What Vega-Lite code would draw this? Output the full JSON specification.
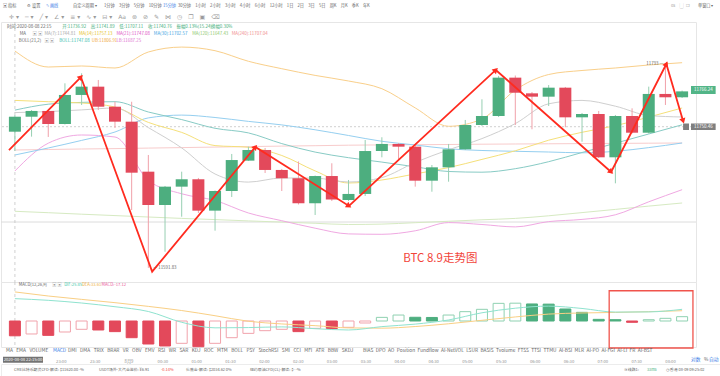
{
"$schema":"https://vega.github.io/schema/vega-lite/v6.json",
"padding":0,"spacing":0,"bounds":"flush","background":"#ffffff",
"config":{"view":{"stroke":null},"text":{"font":"Noto Sans CJK SC"},"axis":{"labelFont":"Noto Sans CJK SC"}},
"datasets":{
"k":[
{"t":"2020-08-08T22:15","o":11726.4,"h":11742.9,"l":11707.3,"c":11741.2},
{"t":"2020-08-08T22:30","o":11741.2,"h":11747.8,"l":11721.5,"c":11746.9},
{"t":"2020-08-08T22:45","o":11746.9,"h":11747.8,"l":11721.2,"c":11734.0},
{"t":"2020-08-08T23:00","o":11734.0,"h":11774.2,"l":11733.5,"c":11762.7},
{"t":"2020-08-08T23:15","o":11762.7,"h":11784.1,"l":11752.8,"c":11770.9},
{"t":"2020-08-08T23:30","o":11770.9,"h":11777.5,"l":11747.8,"c":11751.1},
{"t":"2020-08-08T23:45","o":11751.1,"h":11756.0,"l":11730.1,"c":11736.3},
{"t":"2020-08-09T00:00","o":11736.3,"h":11756.0,"l":11649.0,"c":11685.9},
{"t":"2020-08-09T00:15","o":11686.9,"h":11703.4,"l":11591.83,"c":11654.0},
{"t":"2020-08-09T00:30","o":11654.0,"h":11672.8,"l":11607.8,"c":11672.1},
{"t":"2020-08-09T00:45","o":11672.1,"h":11686.9,"l":11642.4,"c":11679.4},
{"t":"2020-08-09T01:00","o":11679.4,"h":11680.7,"l":11646.1,"c":11648.4},
{"t":"2020-08-09T01:15","o":11648.4,"h":11668.3,"l":11628.6,"c":11667.8},
{"t":"2020-08-09T01:30","o":11667.8,"h":11704.4,"l":11661.9,"c":11698.4},
{"t":"2020-08-09T01:45","o":11697.8,"h":11711.6,"l":11697.5,"c":11708.3},
{"t":"2020-08-09T02:00","o":11708.3,"h":11710.3,"l":11685.6,"c":11688.6},
{"t":"2020-08-09T02:15","o":11688.6,"h":11689.6,"l":11667.8,"c":11680.4},
{"t":"2020-08-09T02:30","o":11680.4,"h":11697.0,"l":11654.5,"c":11655.7},
{"t":"2020-08-09T02:45","o":11655.7,"h":11683.1,"l":11644.1,"c":11682.6},
{"t":"2020-08-09T03:00","o":11682.6,"h":11695.2,"l":11657.9,"c":11659.4},
{"t":"2020-08-09T03:15","o":11658.9,"h":11678.7,"l":11657.9,"c":11664.9},
{"t":"2020-08-09T03:30","o":11664.9,"h":11718.2,"l":11662.9,"c":11707.3},
{"t":"2020-08-09T03:45","o":11707.3,"h":11720.9,"l":11701.1,"c":11714.3},
{"t":"2020-08-09T04:00","o":11714.3,"h":11715.2,"l":11698.4,"c":11711.6},
{"t":"2020-08-09T04:15","o":11711.6,"h":11713.3,"l":11672.1,"c":11678.0},
{"t":"2020-08-09T04:30","o":11678.0,"h":11693.5,"l":11667.1,"c":11691.2},
{"t":"2020-08-09T04:45","o":11691.2,"h":11714.3,"l":11677.0,"c":11709.0},
{"t":"2020-08-09T05:00","o":11709.0,"h":11738.0,"l":11708.3,"c":11733.0},
{"t":"2020-08-09T05:15","o":11733.0,"h":11758.4,"l":11732.0,"c":11741.9},
{"t":"2020-08-09T05:30","o":11741.9,"h":11781.4,"l":11740.9,"c":11779.8},
{"t":"2020-08-09T05:45","o":11779.8,"h":11781.9,"l":11733.0,"c":11764.9},
{"t":"2020-08-09T06:00","o":11764.3,"h":11765.6,"l":11728.8,"c":11761.0},
{"t":"2020-08-09T06:15","o":11761.0,"h":11772.5,"l":11751.8,"c":11769.9},
{"t":"2020-08-09T06:30","o":11769.9,"h":11770.6,"l":11730.8,"c":11740.6},
{"t":"2020-08-09T06:45","o":11740.6,"h":11744.9,"l":11716.5,"c":11743.9},
{"t":"2020-08-09T07:00","o":11743.9,"h":11746.9,"l":11700.4,"c":11701.1},
{"t":"2020-08-09T07:15","o":11701.1,"h":11742.9,"l":11675.4,"c":11741.9},
{"t":"2020-08-09T07:30","o":11741.9,"h":11749.5,"l":11724.6,"c":11725.4},
{"t":"2020-08-09T07:45","o":11725.4,"h":11770.9,"l":11724.6,"c":11763.7},
{"t":"2020-08-09T08:00","o":11763.7,"h":11793.0,"l":11752.8,"c":11760.4},
{"t":"2020-08-09T08:15","o":11760.4,"h":11767.0,"l":11759.7,"c":11766.24}
],
"ma":[
{"t":"2020-08-08T22:15","MA7":11745.27,"MA14":11757.32,"MA30":11703.38,"MA120":11647.76,"MA240":11708.32,"BOLL":11747.74,"UB":11806.13,"LB":11687.57},
{"t":"2020-08-08T22:45","MA7":11746.26,"MA14":11756.04,"MA30":11710.30,"MA120":11646.37,"MA240":11708.81,"BOLL":11753.57,"UB":11790.32,"LB":11715.04},
{"t":"2020-08-08T23:15","MA7":11747.94,"MA14":11754.76,"MA30":11717.80,"MA120":11644.89,"MA240":11709.31,"BOLL":11755.35,"UB":11791.31,"LB":11723.14},
{"t":"2020-08-08T23:45","MA7":11749.82,"MA14":11750.80,"MA30":11726.10,"MA120":11643.51,"MA240":11709.70,"BOLL":11756.04,"UB":11789.34,"LB":11721.16},
{"t":"2020-08-09T00:15","MA7":11730.45,"MA14":11735.59,"MA30":11740.03,"MA120":11642.12,"MA240":11710.20,"BOLL":11745.86,"UB":11805.14,"LB":11678.38},
{"t":"2020-08-09T00:45","MA7":11710.39,"MA14":11725.71,"MA30":11742.80,"MA120":11640.74,"MA240":11710.69,"BOLL":11738.36,"UB":11809.99,"LB":11665.05},
{"t":"2020-08-09T01:15","MA7":11684.61,"MA14":11712.67,"MA30":11740.43,"MA120":11639.56,"MA240":11711.19,"BOLL":11729.76,"UB":11806.43,"LB":11658.43},
{"t":"2020-08-09T01:45","MA7":11676.61,"MA14":11710.99,"MA30":11736.58,"MA120":11638.27,"MA240":11711.68,"BOLL":11725.21,"UB":11795.96,"LB":11646.08},
{"t":"2020-08-09T02:15","MA7":11680.66,"MA14":11702.89,"MA30":11733.12,"MA120":11637.09,"MA240":11712.17,"BOLL":11714.64,"UB":11788.64,"LB":11638.47},
{"t":"2020-08-09T02:45","MA7":11680.56,"MA14":11687.67,"MA30":11728.28,"MA120":11635.90,"MA240":11712.57,"BOLL":11706.25,"UB":11782.02,"LB":11631.06},
{"t":"2020-08-09T03:15","MA7":11676.70,"MA14":11675.72,"MA30":11722.65,"MA120":11634.71,"MA240":11713.06,"BOLL":11700.71,"UB":11776.49,"LB":11625.43},
{"t":"2020-08-09T03:45","MA7":11681.05,"MA14":11678.68,"MA30":11716.92,"MA120":11635.11,"MA240":11713.36,"BOLL":11696.37,"UB":11768.88,"LB":11625.03},
{"t":"2020-08-09T04:15","MA7":11696.07,"MA14":11684.71,"MA30":11713.26,"MA120":11636.49,"MA240":11713.56,"BOLL":11691.72,"UB":11749.91,"LB":11628.49},
{"t":"2020-08-09T04:45","MA7":11708.52,"MA14":11690.93,"MA30":11709.51,"MA120":11637.88,"MA240":11713.75,"BOLL":11687.08,"UB":11731.74,"LB":11636.59},
{"t":"2020-08-09T05:15","MA7":11719.58,"MA14":11699.03,"MA30":11707.83,"MA120":11639.36,"MA240":11714.05,"BOLL":11686.39,"UB":11738.95,"LB":11634.71},
{"t":"2020-08-09T05:45","MA7":11734.40,"MA14":11707.53,"MA30":11707.04,"MA120":11640.74,"MA240":11714.25,"BOLL":11689.84,"UB":11767.60,"LB":11632.34},
{"t":"2020-08-09T06:15","MA7":11753.97,"MA14":11718.00,"MA30":11706.34,"MA120":11643.31,"MA240":11714.45,"BOLL":11696.76,"UB":11782.91,"LB":11637.58},
{"t":"2020-08-09T06:45","MA7":11757.32,"MA14":11725.81,"MA30":11705.55,"MA120":11646.47,"MA240":11714.64,"BOLL":11705.85,"UB":11786.87,"LB":11639.75},
{"t":"2020-08-09T07:15","MA7":11751.59,"MA14":11732.33,"MA30":11707.04,"MA120":11649.63,"MA240":11714.84,"BOLL":11715.04,"UB":11789.34,"LB":11644.30},
{"t":"2020-08-09T07:45","MA7":11742.41,"MA14":11740.83,"MA30":11710.69,"MA120":11652.89,"MA240":11715.04,"BOLL":11724.13,"UB":11792.30,"LB":11657.14},
{"t":"2020-08-09T08:15","MA7":11740.92,"MA14":11749.82,"MA30":11715.24,"MA120":11655.96,"MA240":11715.24,"BOLL":11733.22,"UB":11794.57,"LB":11669.10}
],
"md":[
{"t":"2020-08-08T22:15","DIF":25.85,"DEA":33.61},
{"t":"2020-08-08T22:45","DIF":23.9,"DEA":28.9},
{"t":"2020-08-08T23:15","DIF":20.8,"DEA":25.0},
{"t":"2020-08-08T23:45","DIF":16.5,"DEA":21.2},
{"t":"2020-08-09T00:15","DIF":11.0,"DEA":16.9},
{"t":"2020-08-09T00:45","DIF":-1.5,"DEA":12.1},
{"t":"2020-08-09T01:15","DIF":-7.9,"DEA":6.1},
{"t":"2020-08-09T01:45","DIF":-7.6,"DEA":-0.3},
{"t":"2020-08-09T02:15","DIF":-6.8,"DEA":-3.4},
{"t":"2020-08-09T02:45","DIF":-8.9,"DEA":-5.4},
{"t":"2020-08-09T03:15","DIF":-10.4,"DEA":-8.0},
{"t":"2020-08-09T03:45","DIF":-6.5,"DEA":-8.3},
{"t":"2020-08-09T04:15","DIF":-3.6,"DEA":-6.4},
{"t":"2020-08-09T04:45","DIF":1.2,"DEA":-3.2},
{"t":"2020-08-09T05:15","DIF":9.5,"DEA":0.8},
{"t":"2020-08-09T05:45","DIF":14.8,"DEA":4.7},
{"t":"2020-08-09T06:15","DIF":17.2,"DEA":8.0},
{"t":"2020-08-09T06:45","DIF":14.5,"DEA":9.3},
{"t":"2020-08-09T07:15","DIF":10.3,"DEA":9.9},
{"t":"2020-08-09T07:45","DIF":10.5,"DEA":10.8},
{"t":"2020-08-09T08:15","DIF":13.5,"DEA":11.9}
],
"mh":[
{"t":"2020-08-08T22:15","m":-17.12},{"t":"2020-08-08T22:30","m":-15.0},{"t":"2020-08-08T22:45","m":-16.6},{"t":"2020-08-08T23:00","m":-12.7},
{"t":"2020-08-08T23:15","m":-9.6},{"t":"2020-08-08T23:30","m":-10.4},{"t":"2020-08-08T23:45","m":-12.3},{"t":"2020-08-09T00:00","m":-19.3},
{"t":"2020-08-09T00:15","m":-26.6},{"t":"2020-08-09T00:30","m":-28.9},{"t":"2020-08-09T00:45","m":-25.8},{"t":"2020-08-09T01:00","m":-29.7},
{"t":"2020-08-09T01:15","m":-25.8},{"t":"2020-08-09T01:30","m":-19.3},{"t":"2020-08-09T01:45","m":-14.3},{"t":"2020-08-09T02:00","m":-11.2},
{"t":"2020-08-09T02:15","m":-9.6},{"t":"2020-08-09T02:30","m":-12.3},{"t":"2020-08-09T02:45","m":-8.5},{"t":"2020-08-09T03:00","m":-8.7},
{"t":"2020-08-09T03:15","m":-7.3},{"t":"2020-08-09T03:30","m":-2.3},{"t":"2020-08-09T03:45","m":4.2},{"t":"2020-08-09T04:00","m":6.9},
{"t":"2020-08-09T04:15","m":4.3},{"t":"2020-08-09T04:30","m":4.1},{"t":"2020-08-09T04:45","m":6.9},{"t":"2020-08-09T05:00","m":10.8},
{"t":"2020-08-09T05:15","m":13.5},{"t":"2020-08-09T05:30","m":20.4},{"t":"2020-08-09T05:45","m":20.6},{"t":"2020-08-09T06:00","m":19.7},
{"t":"2020-08-09T06:15","m":19.5},{"t":"2020-08-09T06:30","m":13.9},{"t":"2020-08-09T06:45","m":10.0},{"t":"2020-08-09T07:00","m":1.9},
{"t":"2020-08-09T07:15","m":1.5},{"t":"2020-08-09T07:30","m":-1.5},{"t":"2020-08-09T07:45","m":1.5},{"t":"2020-08-09T08:00","m":3.1},
{"t":"2020-08-09T08:15","m":5.0}
],
"zz":[
{"t":"2020-08-08T22:09:40","p":11708.3},{"t":"2020-08-08T23:14:22","p":11780.4},{"t":"2020-08-09T00:18:26","p":11588.1},
{"t":"2020-08-09T01:51:14","p":11711.3},{"t":"2020-08-09T03:15:25","p":11653.0},{"t":"2020-08-09T05:27:29","p":11787.4},
{"t":"2020-08-09T07:11:10","p":11686.6},{"t":"2020-08-09T08:00:50","p":11793.3},{"t":"2020-08-09T08:15:53","p":11737.0}
],
"ah":[
{"t":"2020-08-08T23:14:22","p":11780.4,"a":"a1"},{"t":"2020-08-09T01:51:14","p":11711.3,"a":"a2"},{"t":"2020-08-09T03:15:25","p":11653.0,"a":"a3"},
{"t":"2020-08-09T05:27:29","p":11787.4,"a":"a4"},{"t":"2020-08-09T07:11:10","p":11686.6,"a":"a5"},{"t":"2020-08-09T08:00:50","p":11793.3,"a":"a6"},
{"t":"2020-08-09T08:15:53","p":11737.0,"a":"a7"}
],
"pt":[
{"t":"2020-08-08T22:07:53","p":11829.84,"k":"lbl","txt":"时间:2020-08-08 22:15"},
{"t":"2020-08-08T22:57:31","p":11829.84,"k":"up","txt":"开:11736.92"},
{"t":"2020-08-08T23:23:13","p":11829.84,"k":"up","txt":"高:11741.89"},
{"t":"2020-08-08T23:48:55","p":11829.84,"k":"up","txt":"低:11707.11"},
{"t":"2020-08-09T00:14:38","p":11829.84,"k":"up","txt":"收:11740.76"},
{"t":"2020-08-09T00:40:20","p":11829.84,"k":"up","txt":"振幅0.13%(15.24)"},
{"t":"2020-08-09T01:11:21","p":11829.84,"k":"up","txt":"换幅0.30%"},
{"t":"2020-08-08T22:19:25","p":11822.93,"k":"lbl","txt":"MA"},
{"t":"2020-08-08T22:30:56","p":11822.93,"k":"grey","txt":"▣ ▣"},
{"t":"2020-08-08T22:41:34","p":11822.93,"k":"t7","txt":"MA(7):11744.81"},
{"t":"2020-08-08T23:12:35","p":11822.93,"k":"t14","txt":"MA(14):11757.13"},
{"t":"2020-08-08T23:46:16","p":11822.93,"k":"t21","txt":"MA(21):11747.08"},
{"t":"2020-08-09T00:19:56","p":11822.93,"k":"t30","txt":"MA(30):11702.57"},
{"t":"2020-08-09T00:54:31","p":11822.93,"k":"t120","txt":"MA(120):11647.43"},
{"t":"2020-08-09T01:29:58","p":11822.93,"k":"t240","txt":"MA(240):11707.04"},
{"t":"2020-08-08T22:18:31","p":11816.01,"k":"lbl","txt":"BOLL(21,2)"},
{"t":"2020-08-08T22:41:34","p":11816.01,"k":"grey","txt":"▣ ▣"},
{"t":"2020-08-08T22:54:52","p":11816.01,"k":"tboll","txt":"BOLL:11747.08"},
{"t":"2020-08-08T23:24:07","p":11816.01,"k":"tub","txt":"UB:11806.91"},
{"t":"2020-08-08T23:46:16","p":11816.01,"k":"tlb","txt":"LB:11687.25"},
{"t":"2020-08-09T00:19:30","p":11592.2,"k":"lbl","txt":"— 11591.83"}
],
"ptr":[{"t":"2020-08-09T07:58:12","p":11793.0,"k":"lbl","txt":"11793 —"}],
"big":[{"t":"2020-08-09T04:04:11","p":11600.6,"txt":"BTC 8.9走势图"}],
"tg":[
{"t1":"2020-08-09T08:23:00","t2":"2020-08-09T08:45:10","p1":11771.55,"p2":11763.65,"k":"tagup"},
{"t1":"2020-08-09T08:23:00","t2":"2020-08-09T08:45:10","p1":11734.5,"p2":11728.1,"k":"tag"},
{"t1":"2020-08-09T08:15:53","t2":"2020-08-09T08:21:12","p1":11734.5,"p2":11728.1,"k":"tag"}
],
"tgt":[
{"t":"2020-08-09T08:34:05","p":11767.6,"k":"white","txt":"11766.24"},
{"t":"2020-08-09T08:34:05","p":11731.3,"k":"white","txt":"11750.46"}
],
"mt":[
{"t":"2020-08-08T22:18:31","v":41.3,"k":"lbl","txt":"MACD(12,26,9)"},
{"t":"2020-08-08T22:48:40","v":41.3,"k":"grey","txt":"▣ ▣"},
{"t":"2020-08-08T22:59:17","v":41.3,"k":"tdif","txt":"DIF:25.85"},
{"t":"2020-08-08T23:15:15","v":41.3,"k":"tdea","txt":"DEA:33.61"},
{"t":"2020-08-08T23:32:58","v":41.3,"k":"tmacd","txt":"MACD:-17.12"}
],
"box":[{"t1":"2020-08-09T07:09:25","t2":"2020-08-09T08:24:45","v1":35.0,"v2":-31.2}],
"hdr":[
{"t":"2020-08-08T22:08:46","r":"r1","k":"lbl","txt":"▣ 指标"},
{"t":"2020-08-08T22:30:03","r":"r1","k":"lbl","txt":"⚙ 设置"},
{"t":"2020-08-08T22:46:53","r":"r1","k":"blue","txt":"✎ 画线"},
{"t":"2020-08-08T23:10:49","r":"r1","k":"lbl","txt":"自定义周期 ▾"},
{"t":"2020-08-08T23:38:17","r":"r1","k":"lbl","txt":"1分钟\u2002\u20023分钟\u2002\u20025分钟\u2002\u200210分钟"},
{"t":"2020-08-09T00:30:35","r":"r1","k":"blue","txt":"15分钟"},
{"t":"2020-08-09T00:43:52","r":"r1","k":"lbl","txt":"30分钟\u2002\u20021小时\u2002\u20022小时\u2002\u20023小时\u2002\u20024小时\u2002\u20026小时\u2002\u200212小时\u2002\u20021日\u2002\u20022日\u2002\u20023日\u2002\u20025日\u2002\u2002周K\u2002\u2002月K\u2002\u2002季K\u2002\u2002年K"},
{"t":"2020-08-09T08:00:49","r":"r1","k":"grey","txt":"0s\u2002\u2002▢\u2002❐"},
{"t":"2020-08-09T08:24:44","r":"r1","k":"lbl","txt":"单窗口 ▾"}
],
"icons":[{"t":"2020-08-08T22:14:05","r":"r2","txt":"✛ ▾\u2002\u2002─ ▾\u2002\u2002╱ ▾\u2002\u2002∠ ▾\u2002\u2002≡ ▾\u2002\u2002∿ ▾\u2002\u2002⊟ ▾\u2002\u2002Aa\u2002\u2002⊛\u2002\u2002⊘\u2002\u2002✎\u2002\u2002⋈\u2002\u2002◷\u2002\u2002❐\u2002\u2002▣\u2002\u2002⌫"}],
"it":[
{"t":"2020-08-08T22:11:26","r":"n","k":"lbl","txt":"MA\u2002\u00a0EMA\u2002\u00a0VOLUME"},
{"t":"2020-08-08T22:53:05","r":"n","k":"blue","txt":"MACD"},
{"t":"2020-08-08T23:06:23","r":"n","k":"lbl","txt":"DMI\u2002\u00a0DMA\u2002\u00a0TRIX\u2002\u00a0BRAR\u2002\u00a0VR\u2002\u00a0OBV\u2002\u00a0EMV\u2002\u00a0RSI\u2002\u00a0WR\u2002\u00a0SAR\u2002\u00a0KDJ\u2002\u00a0ROC\u2002\u00a0MTM\u2002\u00a0BOLL\u2002\u00a0PSY\u2002\u00a0StochRSI\u2002\u00a0SMI\u2002\u00a0CCI\u2002\u00a0MFI\u2002\u00a0ATR\u2002\u00a0BBW\u2002\u00a0SKDJ"},
{"t":"2020-08-09T03:27:50","r":"n","k":"lbl","txt":"BIAS\u2002DPO\u2002AO\u2002Position\u2002Fundflow\u2002AI-NetVOL\u2002LSUR\u2002BASIS\u2002Tvolume\u2002FTSS\u2002TTSI\u2002TTMU\u2002AI-BSI\u2002MLR\u2002AI-PO\u2002AI-FGI\u2002AI-LI\u2002FR\u2002AI-BST"},
{"t":"2020-08-09T08:18:32","r":"c","k":"blue","txt":"对数"},
{"t":"2020-08-09T08:30:04","r":"c","k":"lbl","txt":"%"},
{"t":"2020-08-09T08:34:29","r":"c","k":"blue","txt":"自动"}
],
"itc":[{"t":"2020-08-08T22:26:30","r":"c","k":"white","txt":"2020-08-08 22:15:00"}],
"cbox":[{"t1":"2020-08-08T22:08:46","t2":"2020-08-08T22:44:13","r":"c"}],
"ft":[
{"t":"2020-08-08T22:18:31","k":"lbl","txt":"CME比特币期货CFD-解读: $11620.00 -%"},
{"t":"2020-08-08T23:33:52","k":"lbl","txt":"USDT场外-大汽金溢价: ¥6.91"},
{"t":"2020-08-09T00:28:49","k":"red","txt":"-0.14%"},
{"t":"2020-08-09T00:50:58","k":"lbl","txt":"伦敦金-解读: $2034.62 0%"},
{"t":"2020-08-09T01:47:41","k":"lbl","txt":"纽约原油CFD(CL)-解读: $- -%"},
{"t":"2020-08-09T07:19:10","k":"lbl","txt":"≋ 线路1:"},
{"t":"2020-08-09T07:39:32","k":"up","txt":"33ms"},
{"t":"2020-08-09T07:56:23","k":"lbl","txt":"◷ 香港 08-09 09:25:02"}
]
},
"vconcat":[
{"width":720,"height":22,
 "layer":[
  {"data":{"name":"hdr"},
   "mark":{"type":"text","align":"left","baseline":"middle","fontSize":4.2},
   "encoding":{
    "x":{"field":"t","type":"temporal","scale":{"domain":[{"year":2020,"month":8,"date":8,"hours":22,"minutes":7},{"year":2020,"month":8,"date":9,"hours":8,"minutes":45,"seconds":10}]},"axis":null},
    "y":{"field":"r","type":"ordinal","scale":{"domain":["r1","r2"]},"axis":null},
    "text":{"field":"txt"},
    "color":{"field":"k","type":"nominal","legend":null,"scale":{"domain":["MA7","MA14","MA30","MA120","MA240","BOLL","UB","LB","DIF","DEA","lbl","up","t7","t14","t21","t30","t120","t240","tboll","tub","tlb","tdif","tdea","tmacd","blue","red","grey","white","tag","tagup"],"range":["#cfcfcf","#f5e07a","#95cff0","#d6eac2","#f8cccc","#88cbc5","#f9cf8a","#f0a8e2","#8fe3cf","#f9cf84","#666666","#3fae7a","#a8a8a8","#e5be1a","#dd4cc4","#3aa2e2","#8cc86a","#ef8a8a","#36bead","#efa63a","#de6fd0","#3cc8a8","#f0b040","#ea5a9c","#3b7ee6","#f2453a","#9a9a9a","#ffffff","#7f7f7f","#52b587"]}}}},
  {"data":{"name":"icons"},
   "mark":{"type":"text","align":"left","baseline":"middle","fontSize":6,"font":"DejaVu Sans","color":"#9a9a9a"},
   "encoding":{"x":{"field":"t","type":"temporal","axis":null},"y":{"field":"r","type":"ordinal","axis":null},"text":{"field":"txt"}}}
 ]},
{"width":695,"height":260,"view":{"stroke":"#e6e6e6"},
 "layer":[
  {"data":{"values":[{}]},"mark":{"type":"rule","color":"#dcdcdc","strokeWidth":1},"encoding":{"y":{"datum":11637.18,"type":"quantitative","axis":null}}},
  {"data":{"values":[{}]},"mark":{"type":"rule","color":"#c4c4c4","strokeDash":[2,2],"strokeWidth":0.8},"encoding":{"y":{"datum":11731.34,"type":"quantitative","axis":null}}},
  {"data":{"values":[{}]},"mark":{"type":"rule","color":"#c4c4c4","strokeDash":[3,3],"strokeWidth":0.8},"encoding":{"x":{"datum":{"year":2020,"month":8,"date":8,"hours":22,"minutes":15},"type":"temporal","axis":null}}},
  {"data":{"name":"ma"},"transform":[{"fold":["MA240","MA120","LB","UB","MA30","BOLL","MA14","MA7"],"as":["s","v"]}],
   "mark":{"type":"line","strokeWidth":1,"interpolate":"monotone"},
   "encoding":{"x":{"field":"t","type":"temporal","axis":null},"y":{"field":"v","type":"quantitative","axis":null},
    "color":{"field":"s","type":"nominal","legend":null,"scale":{"domain":["MA7","MA14","MA30","MA120","MA240","BOLL","UB","LB","DIF","DEA","lbl","up","t7","t14","t21","t30","t120","t240","tboll","tub","tlb","tdif","tdea","tmacd","blue","red","grey","white","tag","tagup"],"range":["#cfcfcf","#f5e07a","#95cff0","#d6eac2","#f8cccc","#88cbc5","#f9cf8a","#f0a8e2","#8fe3cf","#f9cf84","#666666","#3fae7a","#a8a8a8","#e5be1a","#dd4cc4","#3aa2e2","#8cc86a","#ef8a8a","#36bead","#efa63a","#de6fd0","#3cc8a8","#f0b040","#ea5a9c","#3b7ee6","#f2453a","#9a9a9a","#ffffff","#7f7f7f","#52b587"]}}}},
  {"data":{"name":"k"},"mark":{"type":"rule","strokeWidth":1},
   "encoding":{
    "x":{"field":"t","type":"temporal","scale":{"domain":[{"year":2020,"month":8,"date":8,"hours":22,"minutes":7},{"year":2020,"month":8,"date":9,"hours":8,"minutes":23}]},
         "axis":{"orient":"bottom","labels":false,"ticks":false,"domain":false,"grid":true,"gridColor":"#f1f1f1","tickCount":{"interval":"minute","step":30},"title":null}},
    "y":{"field":"l","type":"quantitative","scale":{"domain":[11577.9,11834.78],"nice":false,"zero":false},
         "axis":{"orient":"right","values":[11812.06,11793.12,11774.22,11755.34,11736.49,11717.67,11698.88,11680.13,11661.4,11642.7,11624.04,11605.4,11586.79],"format":".2f","grid":true,"gridColor":"#f1f1f1","ticks":false,"domain":false,"labelFontSize":4.5,"labelColor":"#8a8a8a","labelPadding":3,"title":null}},
    "y2":{"field":"h"},
    "color":{"condition":{"test":"datum.c >= datum.o","value":"#97cfb2"},"value":"#f0a0a9"}}},
  {"data":{"name":"k"},"mark":{"type":"bar","width":12},
   "encoding":{"x":{"field":"t","type":"temporal","axis":null},"y":{"field":"o","type":"quantitative","axis":null},"y2":{"field":"c"},
    "color":{"condition":{"test":"datum.c >= datum.o","value":"#4dae7f"},"value":"#e3495b"}}},
  {"data":{"name":"zz"},"mark":{"type":"line","color":"#ff2b1f","strokeWidth":1.8},
   "encoding":{"x":{"field":"t","type":"temporal","axis":null},"y":{"field":"p","type":"quantitative","axis":null}}},
  {"data":{"name":"ah"},"mark":{"type":"point","shape":"triangle-up","filled":true,"size":40,"color":"#ff2b1f","opacity":1},
   "encoding":{"x":{"field":"t","type":"temporal","axis":null},"y":{"field":"p","type":"quantitative","axis":null},
    "angle":{"field":"a","type":"nominal","legend":null,"scale":{"type":"ordinal","domain":["a1","a2","a3","a4","a5","a6","a7"],"range":[45,40,121.8,47.6,131.1,27.4,163.4]}}}},
  {"data":{"name":"tg"},"mark":{"type":"rect"},
   "encoding":{"x":{"field":"t1","type":"temporal","axis":null},"x2":{"field":"t2"},"y":{"field":"p1","type":"quantitative","axis":null},"y2":{"field":"p2"},
    "color":{"field":"k","type":"nominal","legend":null,"scale":{"domain":["MA7","MA14","MA30","MA120","MA240","BOLL","UB","LB","DIF","DEA","lbl","up","t7","t14","t21","t30","t120","t240","tboll","tub","tlb","tdif","tdea","tmacd","blue","red","grey","white","tag","tagup"],"range":["#cfcfcf","#f5e07a","#95cff0","#d6eac2","#f8cccc","#88cbc5","#f9cf8a","#f0a8e2","#8fe3cf","#f9cf84","#666666","#3fae7a","#a8a8a8","#e5be1a","#dd4cc4","#3aa2e2","#8cc86a","#ef8a8a","#36bead","#efa63a","#de6fd0","#3cc8a8","#f0b040","#ea5a9c","#3b7ee6","#f2453a","#9a9a9a","#ffffff","#7f7f7f","#52b587"]}}}},
  {"data":{"name":"pt"},"mark":{"type":"text","align":"left","baseline":"middle","fontSize":4.4},
   "encoding":{"x":{"field":"t","type":"temporal","axis":null},"y":{"field":"p","type":"quantitative","axis":null},"text":{"field":"txt"},
    "color":{"field":"k","type":"nominal","legend":null,"scale":{"domain":["MA7","MA14","MA30","MA120","MA240","BOLL","UB","LB","DIF","DEA","lbl","up","t7","t14","t21","t30","t120","t240","tboll","tub","tlb","tdif","tdea","tmacd","blue","red","grey","white","tag","tagup"],"range":["#cfcfcf","#f5e07a","#95cff0","#d6eac2","#f8cccc","#88cbc5","#f9cf8a","#f0a8e2","#8fe3cf","#f9cf84","#666666","#3fae7a","#a8a8a8","#e5be1a","#dd4cc4","#3aa2e2","#8cc86a","#ef8a8a","#36bead","#efa63a","#de6fd0","#3cc8a8","#f0b040","#ea5a9c","#3b7ee6","#f2453a","#9a9a9a","#ffffff","#7f7f7f","#52b587"]}}}},
  {"data":{"name":"ptr"},"mark":{"type":"text","align":"right","baseline":"middle","fontSize":4.4,"color":"#666666"},
   "encoding":{"x":{"field":"t","type":"temporal","axis":null},"y":{"field":"p","type":"quantitative","axis":null},"text":{"field":"txt"}}},
  {"data":{"name":"tgt"},"mark":{"type":"text","align":"center","baseline":"middle","fontSize":4.5,"color":"#ffffff"},
   "encoding":{"x":{"field":"t","type":"temporal","axis":null},"y":{"field":"p","type":"quantitative","axis":null},"text":{"field":"txt"}}},
  {"data":{"name":"big"},"mark":{"type":"text","align":"left","baseline":"middle","fontSize":11.5,"color":"#f2453a"},
   "encoding":{"x":{"field":"t","type":"temporal","axis":null},"y":{"field":"p","type":"quantitative","axis":null},"text":{"field":"txt"}}}
 ]},
{"width":695,"height":65,"view":{"stroke":"#e6e6e6"},
 "layer":[
  {"data":{"values":[{}]},"mark":{"type":"rule","color":"#c4c4c4","strokeDash":[3,3],"strokeWidth":0.8},"encoding":{"x":{"datum":{"year":2020,"month":8,"date":8,"hours":22,"minutes":15},"type":"temporal","axis":null}}},
  {"data":{"name":"mh"},"transform":[{"window":[{"op":"lag","field":"m","as":"pm"}],"sort":[{"field":"t","order":"ascending"}]}],
   "mark":{"type":"bar","width":11,"strokeWidth":1},
   "encoding":{
    "x":{"field":"t","type":"temporal","scale":{"domain":[{"year":2020,"month":8,"date":8,"hours":22,"minutes":7},{"year":2020,"month":8,"date":9,"hours":8,"minutes":23}]},
         "axis":{"orient":"bottom","labels":false,"ticks":false,"domain":false,"grid":true,"gridColor":"#f1f1f1","tickCount":{"interval":"minute","step":30},"title":null}},
    "y":{"field":"m","type":"quantitative","scale":{"domain":[-30.06,45.09],"nice":false,"zero":false},
         "axis":{"orient":"right","values":[40,20,0,-20],"format":".2f","grid":true,"gridColor":"#f1f1f1","ticks":false,"domain":false,"labelFontSize":4.2,"labelColor":"#8a8a8a","labelPadding":3,"title":null}},
    "y2":{"datum":0},
    "fill":{"condition":[{"test":"datum.pm != null && datum.m > datum.pm","value":"#ffffff"},{"test":"datum.m >= 0","value":"#4dae7f"}],"value":"#e3495b"},
    "stroke":{"condition":[{"test":"datum.pm != null && datum.m > datum.pm && datum.m >= 0","value":"#8fd1b1"},{"test":"datum.pm != null && datum.m > datum.pm","value":"#f1a3ac"},{"test":"datum.m >= 0","value":"#4dae7f"}],"value":"#e3495b"}}},
  {"data":{"name":"md"},"transform":[{"fold":["DEA","DIF"],"as":["s","v"]}],
   "mark":{"type":"line","strokeWidth":1,"interpolate":"monotone"},
   "encoding":{"x":{"field":"t","type":"temporal","axis":null},"y":{"field":"v","type":"quantitative","axis":null},
    "color":{"field":"s","type":"nominal","legend":null,"scale":{"domain":["MA7","MA14","MA30","MA120","MA240","BOLL","UB","LB","DIF","DEA","lbl","up","t7","t14","t21","t30","t120","t240","tboll","tub","tlb","tdif","tdea","tmacd","blue","red","grey","white","tag","tagup"],"range":["#cfcfcf","#f5e07a","#95cff0","#d6eac2","#f8cccc","#88cbc5","#f9cf8a","#f0a8e2","#8fe3cf","#f9cf84","#666666","#3fae7a","#a8a8a8","#e5be1a","#dd4cc4","#3aa2e2","#8cc86a","#ef8a8a","#36bead","#efa63a","#de6fd0","#3cc8a8","#f0b040","#ea5a9c","#3b7ee6","#f2453a","#9a9a9a","#ffffff","#7f7f7f","#52b587"]}}}},
  {"data":{"name":"box"},"mark":{"type":"rect","fillOpacity":0,"stroke":"#f0544c","strokeWidth":1.3},
   "encoding":{"x":{"field":"t1","type":"temporal","axis":null},"x2":{"field":"t2"},"y":{"field":"v1","type":"quantitative","axis":null},"y2":{"field":"v2"}}},
  {"data":{"name":"mt"},"mark":{"type":"text","align":"left","baseline":"middle","fontSize":4.2},
   "encoding":{"x":{"field":"t","type":"temporal","axis":null},"y":{"field":"v","type":"quantitative","axis":null},"text":{"field":"txt"},
    "color":{"field":"k","type":"nominal","legend":null,"scale":{"domain":["MA7","MA14","MA30","MA120","MA240","BOLL","UB","LB","DIF","DEA","lbl","up","t7","t14","t21","t30","t120","t240","tboll","tub","tlb","tdif","tdea","tmacd","blue","red","grey","white","tag","tagup"],"range":["#cfcfcf","#f5e07a","#95cff0","#d6eac2","#f8cccc","#88cbc5","#f9cf8a","#f0a8e2","#8fe3cf","#f9cf84","#666666","#3fae7a","#a8a8a8","#e5be1a","#dd4cc4","#3aa2e2","#8cc86a","#ef8a8a","#36bead","#efa63a","#de6fd0","#3cc8a8","#f0b040","#ea5a9c","#3b7ee6","#f2453a","#9a9a9a","#ffffff","#7f7f7f","#52b587"]}}}}
 ]},
{"width":695,"height":17,
 "layer":[
  {"data":{"name":"cbox"},"mark":{"type":"rect","color":"#737373"},
   "encoding":{
    "x":{"field":"t1","type":"temporal","scale":{"domain":[{"year":2020,"month":8,"date":8,"hours":22,"minutes":7},{"year":2020,"month":8,"date":9,"hours":8,"minutes":23}]},"axis":null},
    "x2":{"field":"t2"},
    "y":{"field":"r","type":"ordinal","scale":{"type":"band","domain":["n","c"],"paddingInner":0.3,"paddingOuter":0.15},"axis":null}}},
  {"data":{"name":"it"},"mark":{"type":"text","align":"left","baseline":"middle","fontSize":4.8},
   "encoding":{"x":{"field":"t","type":"temporal","axis":null},"y":{"field":"r","type":"ordinal","axis":null},"text":{"field":"txt"},
    "color":{"field":"k","type":"nominal","legend":null,"scale":{"domain":["MA7","MA14","MA30","MA120","MA240","BOLL","UB","LB","DIF","DEA","lbl","up","t7","t14","t21","t30","t120","t240","tboll","tub","tlb","tdif","tdea","tmacd","blue","red","grey","white","tag","tagup"],"range":["#cfcfcf","#f5e07a","#95cff0","#d6eac2","#f8cccc","#88cbc5","#f9cf8a","#f0a8e2","#8fe3cf","#f9cf84","#666666","#3fae7a","#a8a8a8","#e5be1a","#dd4cc4","#3aa2e2","#8cc86a","#ef8a8a","#36bead","#efa63a","#de6fd0","#3cc8a8","#f0b040","#ea5a9c","#3b7ee6","#f2453a","#9a9a9a","#ffffff","#7f7f7f","#52b587"]}}}},
  {"data":{"name":"itc"},"mark":{"type":"text","align":"center","baseline":"middle","fontSize":4.2,"color":"#ffffff"},
   "encoding":{"x":{"field":"t","type":"temporal","axis":null},"y":{"field":"r","type":"ordinal","axis":null},"text":{"field":"txt"}}}
 ]},
{"width":720,"height":12,"view":{"stroke":"#ececec"},
 "layer":[
  {"data":{"name":"ft"},"mark":{"type":"text","align":"left","baseline":"middle","fontSize":3.9},
   "encoding":{"x":{"field":"t","type":"temporal","scale":{"domain":[{"year":2020,"month":8,"date":8,"hours":22,"minutes":7},{"year":2020,"month":8,"date":9,"hours":8,"minutes":45,"seconds":10}]},
     "axis":{"orient":"top","values":[
       {"year":2020,"month":8,"date":8,"hours":23,"minutes":0},{"year":2020,"month":8,"date":8,"hours":23,"minutes":30},
       {"year":2020,"month":8,"date":9,"hours":0,"minutes":0},{"year":2020,"month":8,"date":9,"hours":0,"minutes":30},
       {"year":2020,"month":8,"date":9,"hours":1,"minutes":0},{"year":2020,"month":8,"date":9,"hours":1,"minutes":30},
       {"year":2020,"month":8,"date":9,"hours":2,"minutes":0},{"year":2020,"month":8,"date":9,"hours":2,"minutes":30},
       {"year":2020,"month":8,"date":9,"hours":3,"minutes":0},{"year":2020,"month":8,"date":9,"hours":3,"minutes":30},
       {"year":2020,"month":8,"date":9,"hours":4,"minutes":0},{"year":2020,"month":8,"date":9,"hours":4,"minutes":30},
       {"year":2020,"month":8,"date":9,"hours":5,"minutes":0},{"year":2020,"month":8,"date":9,"hours":5,"minutes":30},
       {"year":2020,"month":8,"date":9,"hours":6,"minutes":0},{"year":2020,"month":8,"date":9,"hours":6,"minutes":30},
       {"year":2020,"month":8,"date":9,"hours":7,"minutes":0},{"year":2020,"month":8,"date":9,"hours":7,"minutes":30},
       {"year":2020,"month":8,"date":9,"hours":8,"minutes":0}],
      "labelExpr":"hours(datum.value) == 0 && minutes(datum.value) == 0 ? '8月9' : timeFormat(datum.value, '%H:%M')",
      "labelFontSize":4.2,"labelColor":"#8f8f8f","labelPadding":1,"ticks":false,"domain":false,"grid":false,"labelOverlap":false,"title":null}},
    "text":{"field":"txt"},
    "color":{"field":"k","type":"nominal","legend":null,"scale":{"domain":["MA7","MA14","MA30","MA120","MA240","BOLL","UB","LB","DIF","DEA","lbl","up","t7","t14","t21","t30","t120","t240","tboll","tub","tlb","tdif","tdea","tmacd","blue","red","grey","white","tag","tagup"],"range":["#cfcfcf","#f5e07a","#95cff0","#d6eac2","#f8cccc","#88cbc5","#f9cf8a","#f0a8e2","#8fe3cf","#f9cf84","#666666","#3fae7a","#a8a8a8","#e5be1a","#dd4cc4","#3aa2e2","#8cc86a","#ef8a8a","#36bead","#efa63a","#de6fd0","#3cc8a8","#f0b040","#ea5a9c","#3b7ee6","#f2453a","#9a9a9a","#ffffff","#7f7f7f","#52b587"]}}}}
 ]}
]
}
